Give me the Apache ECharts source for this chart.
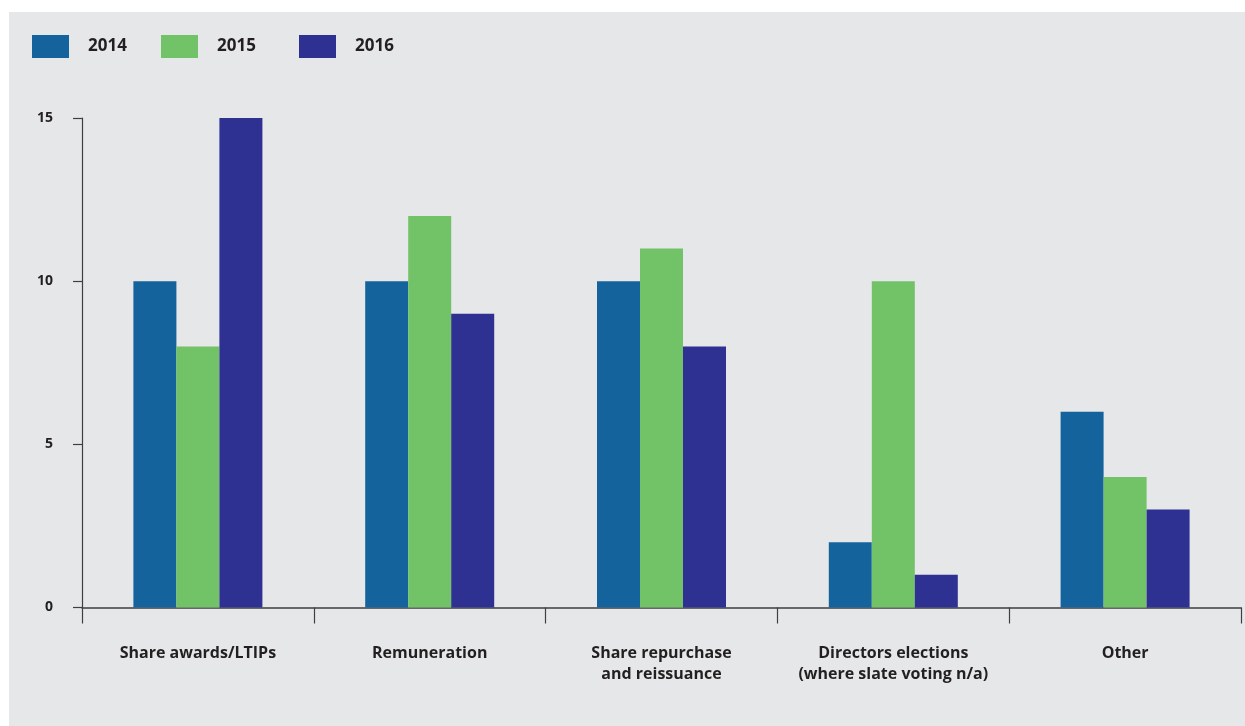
<!DOCTYPE html>
<html>
<head>
<meta charset="utf-8">
<script src="https://cdn.jsdelivr.net/npm/echarts@6/dist/echarts.min.js"></script>
<style>
html,body{margin:0;padding:0;background:#ffffff;width:1245px;height:726px;overflow:hidden;}
#chart{position:absolute;left:9px;top:12px;width:1236px;height:714px;}
</style>
</head>
<body>
<div id="chart"></div>
<script>
const categories = ["Share awards/LTIPs", "Remuneration", "Share repurchase\nand reissuance", "Directors elections\n(where slate voting n/a)", "Other"];
const seriesNames = ["2014", "2015", "2016"];
const values2014 = [10, 10, 10, 2, 6];
const values2015 = [8, 12, 11, 10, 4];
const values2016 = [15, 9, 8, 1, 3];
const yTicks = [0, 5, 10, 15];

const colors = ["#15639d", "#72c267", "#2e3192"];
const textColor = "#231f20";
const axisColor = "#3f3f41";
const fontFamily = "'Open Sans', 'DejaVu Sans', sans-serif";

const chart = echarts.init(document.getElementById('chart'), null, {renderer: 'canvas'});
const allValues = [values2014, values2015, values2016];
const legendLefts = [23, 152, 290];

const option = {
  backgroundColor: '#e6e7e9',
  animation: false,
  legend: seriesNames.map((n, i) => ({
    data: [n],
    left: legendLefts[i],
    top: 23,
    itemWidth: 37,
    itemHeight: 23,
    itemGap: 0,
    padding: 0,
    icon: 'rect',
    selectedMode: false,
    textStyle: {
      color: textColor,
      fontFamily: fontFamily,
      fontWeight: 'bold',
      fontSize: 17,
      padding: [6, 0, 0, 14]
    }
  })),
  grid: {
    left: 73,
    top: 106,
    right: 4,
    bottom: 118.5,
    containLabel: false
  },
  xAxis: {
    type: 'category',
    data: categories,
    boundaryGap: true,
    axisLine: {show: true, lineStyle: {color: axisColor, width: 1.5}},
    axisTick: {show: true, length: 16, lineStyle: {color: axisColor, width: 1.2}},
    axisLabel: {
      color: textColor,
      fontFamily: fontFamily,
      fontWeight: 'bold',
      fontSize: 16,
      lineHeight: 21,
      margin: 35,
      interval: 0
    },
    splitLine: {show: false}
  },
  yAxis: {
    type: 'value',
    min: yTicks[0],
    max: yTicks[yTicks.length - 1],
    interval: yTicks[1] - yTicks[0],
    axisLine: {show: true, lineStyle: {color: axisColor, width: 1.2}},
    axisTick: {show: true, length: 9, lineStyle: {color: axisColor, width: 1.2}},
    axisLabel: {
      color: textColor,
      fontFamily: fontFamily,
      fontWeight: 'bold',
      fontSize: 14,
      margin: 29,
      padding: [0, 0, 9, 0]
    },
    splitLine: {show: false}
  },
  series: seriesNames.map((n, i) => ({
    name: n,
    type: 'bar',
    data: allValues[i],
    barWidth: 43,
    barGap: '0%',
    itemStyle: {color: colors[i]}
  }))
};
chart.setOption(option);
</script>
</body>
</html>
